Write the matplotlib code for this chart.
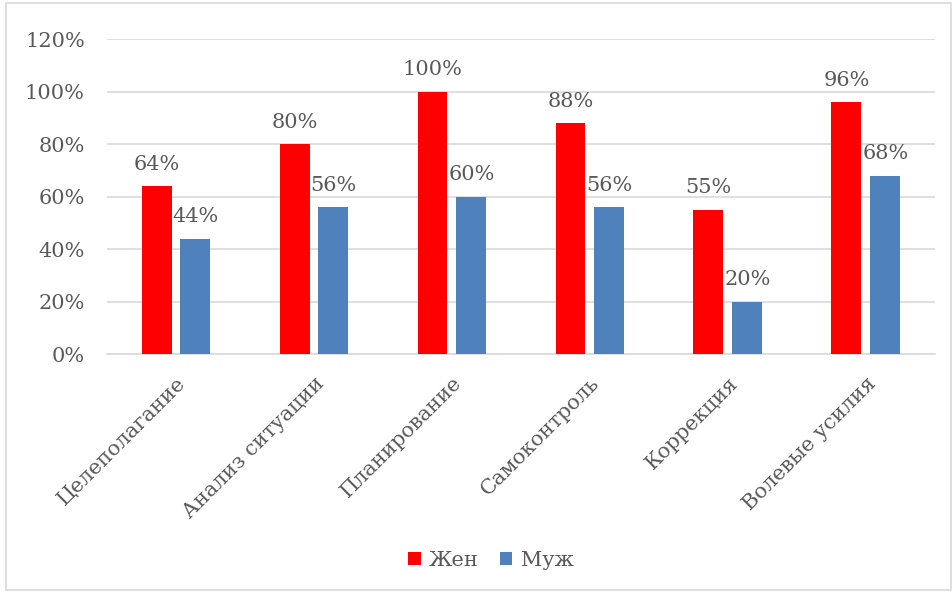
import numpy as np
import matplotlib.pyplot as plt
from matplotlib.patches import Rectangle
from matplotlib.ticker import PercentFormatter

plt.rcParams['font.family'] = ['DejaVu Serif']

categories = ['Целеполагание', 'Анализ ситуации', 'Планирование',
              'Самоконтроль', 'Коррекция', 'Волевые усилия']
zhen = [64, 80, 100, 88, 55, 96]
muzh = [44, 56, 60, 56, 20, 68]
series_names = ['Жен', 'Муж']

text_color = '#595959'
grid_color = '#d9d9d9'

fig = plt.figure(figsize=(9.53, 5.93), dpi=100)
ax = fig.add_axes([0.1123, 0.403, 0.8687, 0.531])

x = np.arange(len(categories))
w = 0.217
off = 0.141
b1 = ax.bar(x - off, zhen, w, color='#ff0000', label=series_names[0], zorder=3)
b2 = ax.bar(x + off, muzh, w, color='#4f81bd', label=series_names[1], zorder=3)

for bars, vals in [(b1, zhen), (b2, muzh)]:
    for r, v in zip(bars, vals):
        ax.annotate(f'{v}%', (r.get_x() + r.get_width() / 2, v),
                    xytext=(0, 9), textcoords='offset points',
                    ha='center', va='bottom', fontsize=15, color=text_color)

ax.set_xlim(-0.5, len(categories) - 0.5)
ax.set_ylim(0, 120)
ax.set_yticks(np.arange(0, 121, 20))
ax.yaxis.set_major_formatter(PercentFormatter(decimals=0))
ax.grid(axis='y', color=grid_color, linewidth=1.2, zorder=0)
for s in ['top', 'right', 'left']:
    ax.spines[s].set_visible(False)
ax.spines['bottom'].set_color(grid_color)
ax.spines['bottom'].set_linewidth(1.2)
ax.tick_params(axis='both', length=0, labelsize=15, labelcolor=text_color)
ax.tick_params(axis='y', pad=16)
ax.set_xticks(x)
ax.set_xticklabels(categories, rotation=45, ha='right', va='top',
                   rotation_mode='anchor')
ax.tick_params(axis='x', pad=14)

ax.legend(loc='center', bbox_to_anchor=(0.515, 0.055),
          bbox_transform=fig.transFigure, ncol=2, frameon=False,
          fontsize=15, handlelength=0.6, handleheight=0.6,
          handletextpad=0.4, columnspacing=1.0, labelcolor=text_color)

fig.patches.append(Rectangle((0.006, 0.005), 0.992, 0.99, transform=fig.transFigure,
                             fill=False, edgecolor=grid_color, linewidth=1.2))

fig.savefig('out.png', dpi=100)
